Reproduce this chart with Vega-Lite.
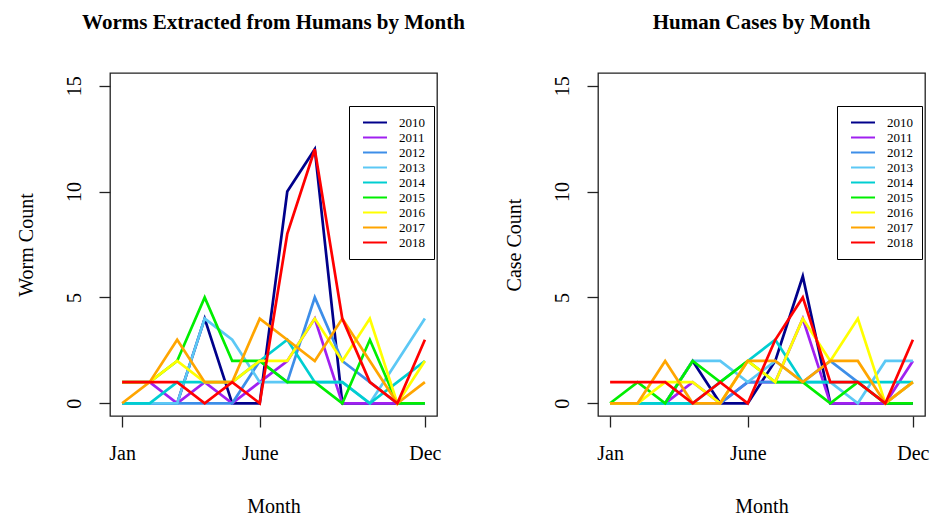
{
  "$schema": "https://vega.github.io/schema/vega-lite/v6.json",
  "background": "white",
  "padding": {"left": 15, "top": 11, "right": 5, "bottom": 0},
  "bounds": "flush",
  "spacing": 161,
  "data": {"values": [
    {"panel":"worms","year":"2010","month":1,"count":0},{"panel":"worms","year":"2010","month":2,"count":0},{"panel":"worms","year":"2010","month":3,"count":0},{"panel":"worms","year":"2010","month":4,"count":4},{"panel":"worms","year":"2010","month":5,"count":0},{"panel":"worms","year":"2010","month":6,"count":0},{"panel":"worms","year":"2010","month":7,"count":10},{"panel":"worms","year":"2010","month":8,"count":12},{"panel":"worms","year":"2010","month":9,"count":0},{"panel":"worms","year":"2010","month":10,"count":0},{"panel":"worms","year":"2010","month":11,"count":0},{"panel":"worms","year":"2010","month":12,"count":0},
    {"panel":"worms","year":"2011","month":1,"count":1},{"panel":"worms","year":"2011","month":2,"count":1},{"panel":"worms","year":"2011","month":3,"count":0},{"panel":"worms","year":"2011","month":4,"count":1},{"panel":"worms","year":"2011","month":5,"count":0},{"panel":"worms","year":"2011","month":6,"count":1},{"panel":"worms","year":"2011","month":7,"count":2},{"panel":"worms","year":"2011","month":8,"count":4},{"panel":"worms","year":"2011","month":9,"count":0},{"panel":"worms","year":"2011","month":10,"count":0},{"panel":"worms","year":"2011","month":11,"count":0},{"panel":"worms","year":"2011","month":12,"count":0},
    {"panel":"worms","year":"2012","month":1,"count":0},{"panel":"worms","year":"2012","month":2,"count":0},{"panel":"worms","year":"2012","month":3,"count":0},{"panel":"worms","year":"2012","month":4,"count":0},{"panel":"worms","year":"2012","month":5,"count":0},{"panel":"worms","year":"2012","month":6,"count":2},{"panel":"worms","year":"2012","month":7,"count":1},{"panel":"worms","year":"2012","month":8,"count":5},{"panel":"worms","year":"2012","month":9,"count":2},{"panel":"worms","year":"2012","month":10,"count":1},{"panel":"worms","year":"2012","month":11,"count":0},{"panel":"worms","year":"2012","month":12,"count":0},
    {"panel":"worms","year":"2013","month":1,"count":0},{"panel":"worms","year":"2013","month":2,"count":0},{"panel":"worms","year":"2013","month":3,"count":0},{"panel":"worms","year":"2013","month":4,"count":4},{"panel":"worms","year":"2013","month":5,"count":3},{"panel":"worms","year":"2013","month":6,"count":1},{"panel":"worms","year":"2013","month":7,"count":1},{"panel":"worms","year":"2013","month":8,"count":1},{"panel":"worms","year":"2013","month":9,"count":1},{"panel":"worms","year":"2013","month":10,"count":0},{"panel":"worms","year":"2013","month":11,"count":2},{"panel":"worms","year":"2013","month":12,"count":4},
    {"panel":"worms","year":"2014","month":1,"count":0},{"panel":"worms","year":"2014","month":2,"count":0},{"panel":"worms","year":"2014","month":3,"count":1},{"panel":"worms","year":"2014","month":4,"count":1},{"panel":"worms","year":"2014","month":5,"count":1},{"panel":"worms","year":"2014","month":6,"count":2},{"panel":"worms","year":"2014","month":7,"count":3},{"panel":"worms","year":"2014","month":8,"count":1},{"panel":"worms","year":"2014","month":9,"count":1},{"panel":"worms","year":"2014","month":10,"count":0},{"panel":"worms","year":"2014","month":11,"count":1},{"panel":"worms","year":"2014","month":12,"count":2},
    {"panel":"worms","year":"2015","month":1,"count":1},{"panel":"worms","year":"2015","month":2,"count":1},{"panel":"worms","year":"2015","month":3,"count":2},{"panel":"worms","year":"2015","month":4,"count":5},{"panel":"worms","year":"2015","month":5,"count":2},{"panel":"worms","year":"2015","month":6,"count":2},{"panel":"worms","year":"2015","month":7,"count":1},{"panel":"worms","year":"2015","month":8,"count":1},{"panel":"worms","year":"2015","month":9,"count":0},{"panel":"worms","year":"2015","month":10,"count":3},{"panel":"worms","year":"2015","month":11,"count":0},{"panel":"worms","year":"2015","month":12,"count":0},
    {"panel":"worms","year":"2016","month":1,"count":1},{"panel":"worms","year":"2016","month":2,"count":1},{"panel":"worms","year":"2016","month":3,"count":2},{"panel":"worms","year":"2016","month":4,"count":1},{"panel":"worms","year":"2016","month":5,"count":1},{"panel":"worms","year":"2016","month":6,"count":2},{"panel":"worms","year":"2016","month":7,"count":2},{"panel":"worms","year":"2016","month":8,"count":4},{"panel":"worms","year":"2016","month":9,"count":2},{"panel":"worms","year":"2016","month":10,"count":4},{"panel":"worms","year":"2016","month":11,"count":0},{"panel":"worms","year":"2016","month":12,"count":2},
    {"panel":"worms","year":"2017","month":1,"count":0},{"panel":"worms","year":"2017","month":2,"count":1},{"panel":"worms","year":"2017","month":3,"count":3},{"panel":"worms","year":"2017","month":4,"count":1},{"panel":"worms","year":"2017","month":5,"count":1},{"panel":"worms","year":"2017","month":6,"count":4},{"panel":"worms","year":"2017","month":7,"count":3},{"panel":"worms","year":"2017","month":8,"count":2},{"panel":"worms","year":"2017","month":9,"count":4},{"panel":"worms","year":"2017","month":10,"count":2},{"panel":"worms","year":"2017","month":11,"count":0},{"panel":"worms","year":"2017","month":12,"count":1},
    {"panel":"worms","year":"2018","month":1,"count":1},{"panel":"worms","year":"2018","month":2,"count":1},{"panel":"worms","year":"2018","month":3,"count":1},{"panel":"worms","year":"2018","month":4,"count":0},{"panel":"worms","year":"2018","month":5,"count":1},{"panel":"worms","year":"2018","month":6,"count":0},{"panel":"worms","year":"2018","month":7,"count":8},{"panel":"worms","year":"2018","month":8,"count":12},{"panel":"worms","year":"2018","month":9,"count":4},{"panel":"worms","year":"2018","month":10,"count":1},{"panel":"worms","year":"2018","month":11,"count":0},{"panel":"worms","year":"2018","month":12,"count":3},
    {"panel":"cases","year":"2010","month":1,"count":0},{"panel":"cases","year":"2010","month":2,"count":0},{"panel":"cases","year":"2010","month":3,"count":0},{"panel":"cases","year":"2010","month":4,"count":2},{"panel":"cases","year":"2010","month":5,"count":0},{"panel":"cases","year":"2010","month":6,"count":0},{"panel":"cases","year":"2010","month":7,"count":2},{"panel":"cases","year":"2010","month":8,"count":6},{"panel":"cases","year":"2010","month":9,"count":0},{"panel":"cases","year":"2010","month":10,"count":0},{"panel":"cases","year":"2010","month":11,"count":0},{"panel":"cases","year":"2010","month":12,"count":0},
    {"panel":"cases","year":"2011","month":1,"count":0},{"panel":"cases","year":"2011","month":2,"count":0},{"panel":"cases","year":"2011","month":3,"count":0},{"panel":"cases","year":"2011","month":4,"count":1},{"panel":"cases","year":"2011","month":5,"count":0},{"panel":"cases","year":"2011","month":6,"count":1},{"panel":"cases","year":"2011","month":7,"count":1},{"panel":"cases","year":"2011","month":8,"count":4},{"panel":"cases","year":"2011","month":9,"count":0},{"panel":"cases","year":"2011","month":10,"count":0},{"panel":"cases","year":"2011","month":11,"count":0},{"panel":"cases","year":"2011","month":12,"count":2},
    {"panel":"cases","year":"2012","month":1,"count":0},{"panel":"cases","year":"2012","month":2,"count":0},{"panel":"cases","year":"2012","month":3,"count":0},{"panel":"cases","year":"2012","month":4,"count":0},{"panel":"cases","year":"2012","month":5,"count":0},{"panel":"cases","year":"2012","month":6,"count":1},{"panel":"cases","year":"2012","month":7,"count":1},{"panel":"cases","year":"2012","month":8,"count":1},{"panel":"cases","year":"2012","month":9,"count":2},{"panel":"cases","year":"2012","month":10,"count":1},{"panel":"cases","year":"2012","month":11,"count":0},{"panel":"cases","year":"2012","month":12,"count":1},
    {"panel":"cases","year":"2013","month":1,"count":0},{"panel":"cases","year":"2013","month":2,"count":0},{"panel":"cases","year":"2013","month":3,"count":0},{"panel":"cases","year":"2013","month":4,"count":2},{"panel":"cases","year":"2013","month":5,"count":2},{"panel":"cases","year":"2013","month":6,"count":1},{"panel":"cases","year":"2013","month":7,"count":2},{"panel":"cases","year":"2013","month":8,"count":1},{"panel":"cases","year":"2013","month":9,"count":1},{"panel":"cases","year":"2013","month":10,"count":0},{"panel":"cases","year":"2013","month":11,"count":2},{"panel":"cases","year":"2013","month":12,"count":2},
    {"panel":"cases","year":"2014","month":1,"count":0},{"panel":"cases","year":"2014","month":2,"count":0},{"panel":"cases","year":"2014","month":3,"count":0},{"panel":"cases","year":"2014","month":4,"count":0},{"panel":"cases","year":"2014","month":5,"count":1},{"panel":"cases","year":"2014","month":6,"count":2},{"panel":"cases","year":"2014","month":7,"count":3},{"panel":"cases","year":"2014","month":8,"count":1},{"panel":"cases","year":"2014","month":9,"count":1},{"panel":"cases","year":"2014","month":10,"count":1},{"panel":"cases","year":"2014","month":11,"count":1},{"panel":"cases","year":"2014","month":12,"count":1},
    {"panel":"cases","year":"2015","month":1,"count":0},{"panel":"cases","year":"2015","month":2,"count":1},{"panel":"cases","year":"2015","month":3,"count":0},{"panel":"cases","year":"2015","month":4,"count":2},{"panel":"cases","year":"2015","month":5,"count":1},{"panel":"cases","year":"2015","month":6,"count":2},{"panel":"cases","year":"2015","month":7,"count":1},{"panel":"cases","year":"2015","month":8,"count":1},{"panel":"cases","year":"2015","month":9,"count":0},{"panel":"cases","year":"2015","month":10,"count":1},{"panel":"cases","year":"2015","month":11,"count":0},{"panel":"cases","year":"2015","month":12,"count":0},
    {"panel":"cases","year":"2016","month":1,"count":0},{"panel":"cases","year":"2016","month":2,"count":0},{"panel":"cases","year":"2016","month":3,"count":1},{"panel":"cases","year":"2016","month":4,"count":1},{"panel":"cases","year":"2016","month":5,"count":0},{"panel":"cases","year":"2016","month":6,"count":2},{"panel":"cases","year":"2016","month":7,"count":1},{"panel":"cases","year":"2016","month":8,"count":4},{"panel":"cases","year":"2016","month":9,"count":2},{"panel":"cases","year":"2016","month":10,"count":4},{"panel":"cases","year":"2016","month":11,"count":0},{"panel":"cases","year":"2016","month":12,"count":1},
    {"panel":"cases","year":"2017","month":1,"count":0},{"panel":"cases","year":"2017","month":2,"count":0},{"panel":"cases","year":"2017","month":3,"count":2},{"panel":"cases","year":"2017","month":4,"count":0},{"panel":"cases","year":"2017","month":5,"count":0},{"panel":"cases","year":"2017","month":6,"count":2},{"panel":"cases","year":"2017","month":7,"count":2},{"panel":"cases","year":"2017","month":8,"count":1},{"panel":"cases","year":"2017","month":9,"count":2},{"panel":"cases","year":"2017","month":10,"count":2},{"panel":"cases","year":"2017","month":11,"count":0},{"panel":"cases","year":"2017","month":12,"count":1},
    {"panel":"cases","year":"2018","month":1,"count":1},{"panel":"cases","year":"2018","month":2,"count":1},{"panel":"cases","year":"2018","month":3,"count":1},{"panel":"cases","year":"2018","month":4,"count":0},{"panel":"cases","year":"2018","month":5,"count":1},{"panel":"cases","year":"2018","month":6,"count":0},{"panel":"cases","year":"2018","month":7,"count":3},{"panel":"cases","year":"2018","month":8,"count":5},{"panel":"cases","year":"2018","month":9,"count":1},{"panel":"cases","year":"2018","month":10,"count":1},{"panel":"cases","year":"2018","month":11,"count":0},{"panel":"cases","year":"2018","month":12,"count":3}
  ]},
  "config": {
    "font": "Liberation Serif",
    "view": {"stroke": "#222222", "strokeWidth": 1.3},
    "axis": {"grid": false, "domain": false, "tickColor": "#222222", "tickSize": 11, "tickWidth": 1.3,
             "labelFont": "Liberation Serif", "labelFontSize": 20, "labelColor": "black",
             "titleFont": "Liberation Serif", "titleFontSize": 20, "titleFontWeight": "normal", "titleColor": "black",
             "labelFlush": false, "labelOverlap": false},
    "axisX": {"labelPadding": 16, "titlePadding": 33},
    "axisY": {"labelAngle": 270, "labelAlign": "center", "labelBaseline": "alphabetic", "labelPadding": 19, "titlePadding": 28},
    "legend": {"symbolType": "stroke", "symbolSize": 576, "symbolStrokeWidth": 2, "symbolOffset": 4,
               "labelFont": "Liberation Serif", "labelFontSize": 13, "labelColor": "black", "labelOffset": 11,
               "strokeColor": "black", "padding": 9, "rowPadding": 0, "clipHeight": 15.0},
    "title": {"font": "Liberation Serif", "fontSize": 21, "fontWeight": "bold", "color": "black", "anchor": "middle", "offset": 40}
  },
  "resolve": {"legend": {"color": "independent"}},
  "hconcat": [
    {
      "title": {"text": "Worms Extracted from Humans by Month"},
      "width": 327, "height": 343,
      "transform": [{"filter": "datum.panel === 'worms'"}],
      "mark": {"type": "line", "strokeWidth": 2.7},
      "encoding": {
        "x": {"field": "month", "type": "quantitative", "scale": {"domain": [0.56, 12.44], "nice": false, "zero": false},
              "axis": {"values": [1, 6, 12], "labelExpr": "datum.value == 1 ? 'Jan' : datum.value == 6 ? 'June' : 'Dec'", "title": "Month"}},
        "y": {"field": "count", "type": "quantitative", "scale": {"domain": [-0.6, 15.6], "nice": false, "zero": false},
              "axis": {"values": [0, 5, 10, 15], "title": "Worm Count"}},
        "color": {"field": "year", "type": "nominal",
                  "scale": {"domain": ["2010","2011","2012","2013","2014","2015","2016","2017","2018"],
                            "range": ["#00008B","#A020F0","#3D8EE8","#5CC8F5","#00CED1","#00EE00","#FFFF00","#FFA500","#FF0000"]},
                  "legend": {"orient": "none", "legendX": 239, "legendY": 33, "title": null}}
      }
    },
    {
      "title": {"text": "Human Cases by Month"},
      "width": 327, "height": 343,
      "transform": [{"filter": "datum.panel === 'cases'"}],
      "mark": {"type": "line", "strokeWidth": 2.7},
      "encoding": {
        "x": {"field": "month", "type": "quantitative", "scale": {"domain": [0.56, 12.44], "nice": false, "zero": false},
              "axis": {"values": [1, 6, 12], "labelExpr": "datum.value == 1 ? 'Jan' : datum.value == 6 ? 'June' : 'Dec'", "title": "Month"}},
        "y": {"field": "count", "type": "quantitative", "scale": {"domain": [-0.6, 15.6], "nice": false, "zero": false},
              "axis": {"values": [0, 5, 10, 15], "title": "Case Count"}},
        "color": {"field": "year", "type": "nominal",
                  "scale": {"domain": ["2010","2011","2012","2013","2014","2015","2016","2017","2018"],
                            "range": ["#00008B","#A020F0","#3D8EE8","#5CC8F5","#00CED1","#00EE00","#FFFF00","#FFA500","#FF0000"]},
                  "legend": {"orient": "none", "legendX": 239, "legendY": 33, "title": null}}
      }
    }
  ]
}
